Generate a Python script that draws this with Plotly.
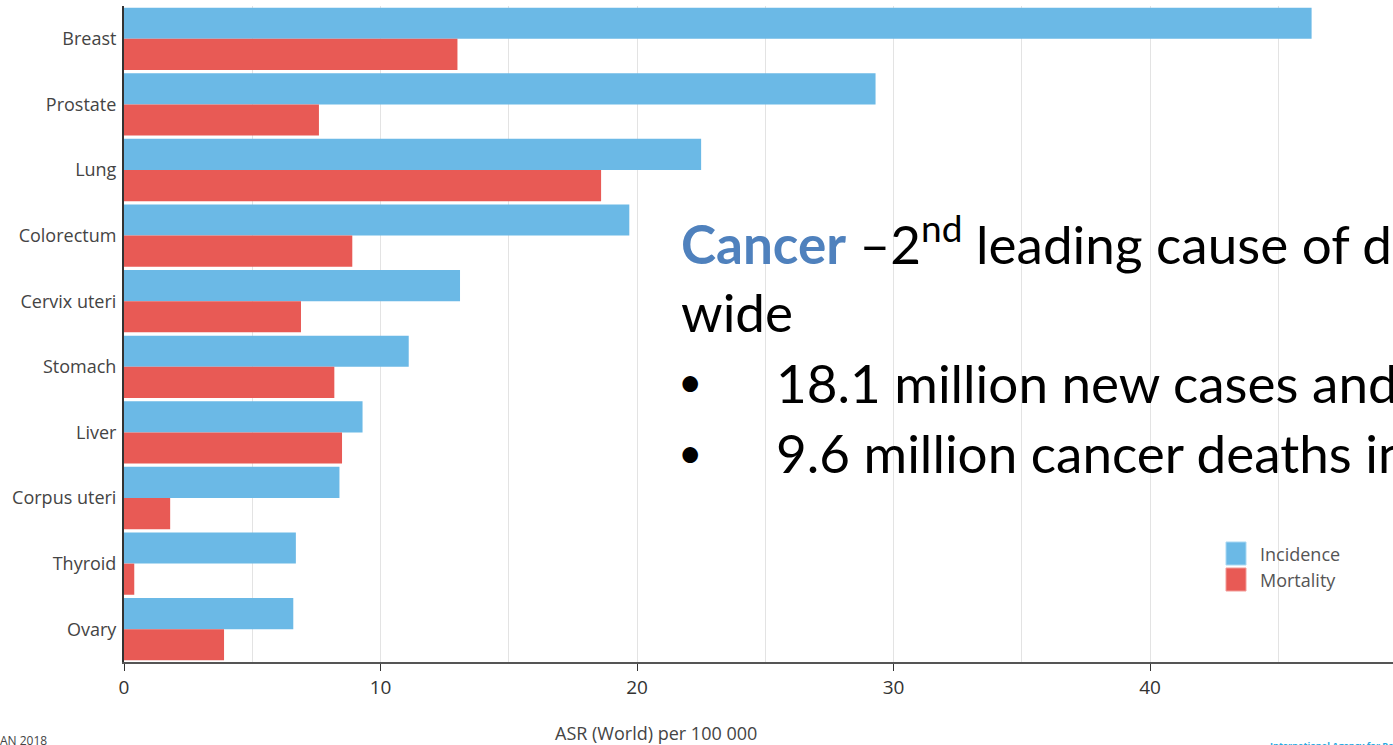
import plotly.graph_objects as go

categories = ["Breast", "Prostate", "Lung", "Colorectum", "Cervix uteri",
              "Stomach", "Liver", "Corpus uteri", "Thyroid", "Ovary"]
incidence = [46.3, 29.3, 22.5, 19.7, 13.1, 11.1, 9.3, 8.4, 6.7, 6.6]
mortality = [13.0, 7.6, 18.6, 8.9, 6.9, 8.2, 8.5, 1.8, 0.4, 3.9]
x_ticks = [0, 10, 20, 30, 40]
series_names = ["Incidence", "Mortality"]
series_colors = ["#6BB9E6", "#E85A55"]
series_edges = ["#A9D8F3", "#F29B98"]

W, H = 1393, 745
L, R, T, B = 124, 0, 6, 83
PW, PH = W - L - R, H - T - B


def px(x):
    return (x - L) / PW


def py(y):
    return (H - B - y) / PH


fig = go.Figure()
for name, vals, col in zip(series_names, [incidence, mortality], series_colors):
    fig.add_trace(go.Bar(y=categories, x=vals, orientation="h", name=name,
                         marker=dict(color=col, line=dict(width=0)), showlegend=False,
                         hoverinfo="skip"))

font_main = "Open Sans, sans-serif"
big = "Lato, sans-serif"
BS = 53

annotations = [
    dict(text='<span style="color:#4F81BD"><b>Cancer</b></span> –2<sup>nd</sup> leading cause of death world',
         x=px(679), y=py(240), xanchor="left", yanchor="middle",
         font=dict(family=big, size=BS, color="#000")),
    dict(text="wide", x=px(679), y=py(311), xanchor="left", yanchor="middle",
         font=dict(family=big, size=BS, color="#000")),
    dict(text="•", x=px(690), y=py(381), xanchor="center", yanchor="middle",
         font=dict(family=big, size=42, color="#000")),
    dict(text="18.1 million new cases and", x=px(774), y=py(382), xanchor="left", yanchor="middle",
         font=dict(family=big, size=BS, color="#000")),
    dict(text="•", x=px(690), y=py(452), xanchor="center", yanchor="middle",
         font=dict(family=big, size=42, color="#000")),
    dict(text="9.6 million cancer deaths in 2018", x=px(774), y=py(452), xanchor="left", yanchor="middle",
         font=dict(family=big, size=BS, color="#000")),
    dict(text="ASR (World) per 100 000", x=px(656), y=py(733), xanchor="center", yanchor="middle",
         font=dict(family=font_main, size=18, color="#444")),
    dict(text="GLOBOCAN 2018", x=px(49), y=py(740), xanchor="right", yanchor="middle",
         font=dict(family=font_main, size=12, color="#444")),
    dict(text="<b>International Agency for Research on Cancer</b>", x=px(1268), y=py(745),
         xanchor="left", yanchor="middle",
         font=dict(family=font_main, size=9, color="#29A8E0")),
]

# manual legend (larger swatches like the reference)
shapes = []
leg_rows = [(542, 565, 554), (568, 591, 580)]
for (y0, y1, yc), name, col, edge in zip(leg_rows, series_names, series_colors, series_edges):
    shapes.append(dict(type="rect", xref="paper", yref="paper",
                       x0=px(1226), x1=px(1246), y0=py(y1), y1=py(y0),
                       fillcolor=col, line=dict(color=edge, width=1)))
    annotations.append(dict(text=name, x=px(1258), y=py(yc), xanchor="left", yanchor="middle",
                            font=dict(family=font_main, size=18, color="#555")))

for a in annotations:
    a.update(xref="paper", yref="paper", showarrow=False)

fig.update_layout(
    width=W, height=H,
    margin=dict(l=L, r=R, t=T, b=B, pad=0),
    paper_bgcolor="white", plot_bgcolor="white",
    barmode="group", bargap=0.05, bargroupgap=0.0,
    font=dict(family=font_main, size=16, color="#444"),
    showlegend=False,
    annotations=annotations,
    shapes=shapes,
    xaxis=dict(range=[0, (W - L - R) / 25.65], tickvals=x_ticks,
               ticks="outside", ticklen=7, tickcolor="#333",
               showline=True, linecolor="#555", linewidth=2,
               showgrid=True, gridcolor="#E3E3E3", gridwidth=1,
               minor=dict(dtick=5, tick0=0, showgrid=True, gridcolor="#E3E3E3", gridwidth=1),
               tickfont=dict(size=19, color="#333"), zeroline=False),
    yaxis=dict(autorange="reversed", showline=True, linecolor="#333", linewidth=2,
               ticks="", showgrid=False, ticklabelstandoff=2,
               tickfont=dict(size=18, color="#444")),
)

fig.write_html("out.html", config={"displayModeBar": False},
               post_script="document.body.style.margin='0';document.body.style.overflow='hidden';")
